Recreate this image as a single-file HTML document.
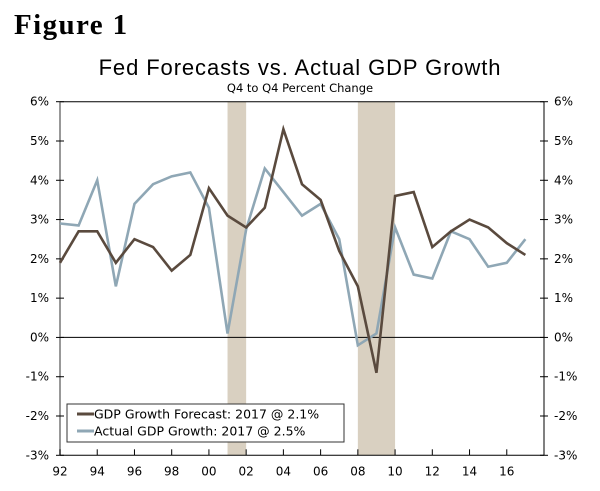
<!DOCTYPE html>
<html><head><meta charset="utf-8"><style>
body{margin:0;background:#fff;}
svg{display:block;font-family:"DejaVu Sans","Liberation Sans",sans-serif;}
</style></head><body>
<svg id="chart" width="600" height="491" viewBox="0 0 600 491">
<text x="14" y="34" font-family="Liberation Serif,serif" font-weight="bold" font-size="29" letter-spacing="1.4">Figure 1</text>
<text x="300" y="75" text-anchor="middle" font-size="22" letter-spacing="0.9" font-family="Liberation Sans,sans-serif">Fed Forecasts vs. Actual GDP Growth</text>
<text x="300" y="92" text-anchor="middle" font-size="11.5">Q4 to Q4 Percent Change</text>
<g id="plot"></g>
</svg>
<script>
const years=[1992,1993,1994,1995,1996,1997,1998,1999,2000,2001,2002,2003,2004,2005,2006,2007,2008,2009,2010,2011,2012,2013,2014,2015,2016,2017];
const forecast=[1.9,2.7,2.7,1.9,2.5,2.3,1.7,2.1,3.8,3.1,2.8,3.3,5.3,3.9,3.5,2.2,1.3,-0.9,3.6,3.7,2.3,2.7,3.0,2.8,2.4,2.1];
const actual=[2.9,2.85,4.0,1.3,3.4,3.9,4.1,4.2,3.3,0.1,2.75,4.3,3.7,3.1,3.4,2.5,-0.2,0.1,2.8,1.6,1.5,2.7,2.5,1.8,1.9,2.5];
const recessions=[[2001,2002],[2008,2010]];
const yTicks=[6,5,4,3,2,1,0,-1,-2,-3];
const xTickYears=[1992,1994,1996,1998,2000,2002,2004,2006,2008,2010,2012,2014,2016];
const x0=60,x1=544,y0=455.3,y1=101.7,xmin=1992,xmax=2018,ymin=-3,ymax=6;
const X=v=>x0+(v-xmin)/(xmax-xmin)*(x1-x0);
const Y=v=>y0-(v-ymin)/(ymax-ymin)*(y0-y1);
const g=document.getElementById('plot');const NS='http://www.w3.org/2000/svg';
function mk(t,a){const e=document.createElementNS(NS,t);for(const k in a)e.setAttribute(k,a[k]);g.appendChild(e);return e;}
recessions.forEach(r=>{const e=mk('rect',{x:X(r[0]),y:y1,width:X(r[1])-X(r[0]),height:y0-y1,fill:'#d9d0c1'});

});
let e=mk('line',{x1:x0,x2:x1,y1:y1,y2:y1,stroke:'#000'});

e=mk('line',{x1:x0,x2:x1,y1:Y(0),y2:Y(0),stroke:'#000'});

e=mk('line',{x1:x0,x2:x0,y1:y1,y2:y0,stroke:'#777',"stroke-width":1.5});

e=mk('line',{x1:x1,x2:x1,y1:y1,y2:y0,stroke:'#000'});

e=mk('line',{x1:x0,x2:x1,y1:y0,y2:y0,stroke:'#000'});

yTicks.forEach(v=>{const y=Y(v);
mk('line',{x1:x0-4,x2:x0+4,y1:y,y2:y,stroke:'#000'});
mk('line',{x1:x1-4,x2:x1+4,y1:y,y2:y,stroke:'#000'});
let t=mk('text',{x:x0-11,y:y+4,"text-anchor":"end","font-size":12});t.textContent=v+'%';

t=mk('text',{x:x1+10,y:y+4,"font-size":12});t.textContent=v+'%';
});
xTickYears.forEach(v=>{const x=X(v);mk('line',{x1:x,x2:x,y1:y0-6,y2:y0,stroke:'#000'});
const t=mk('text',{x:x,y:y0+20,"text-anchor":"middle","font-size":12});t.textContent=String(v%100).padStart(2,'0');
});
function line(d,c,n){const p=mk('polyline',{points:d.map((v,i)=>X(years[i])+','+Y(v)).join(' '),fill:'none',stroke:c,"stroke-width":2.6,"stroke-linejoin":"miter"});
}
line(actual,'#8fa7b5','actual-gdp-line');
line(forecast,'#5a4a3e','forecast-line');
e=mk('rect',{x:67,y:404,width:277,height:38,fill:'#fff',stroke:'#333'});

[['#5a4a3e','GDP Growth Forecast: 2017 @ 2.1%',414],['#8fa7b5','Actual GDP Growth: 2017 @ 2.5%',431]].forEach((l,i)=>{
mk('line',{x1:77,x2:94,y1:l[2],y2:l[2],stroke:l[0],"stroke-width":3});
const t=mk('text',{x:94,y:l[2]+4.5,"font-size":12.5});t.textContent=l[1];
});
</script>
</body></html>
